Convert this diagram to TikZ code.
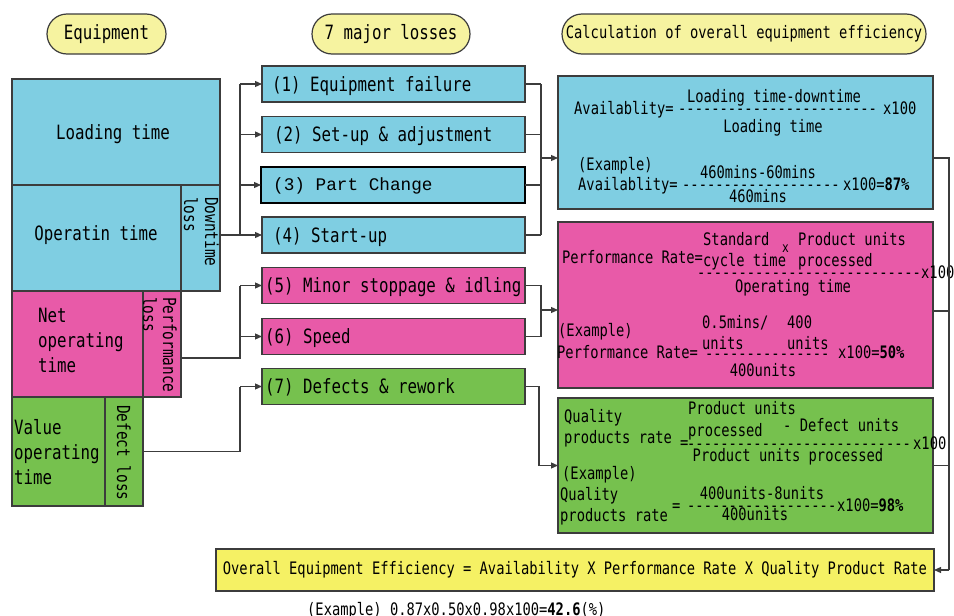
\documentclass[tikz,border=0pt]{standalone}
\usepackage{fontspec}
\setmainfont{DejaVu Sans Mono}[FakeStretch=0.8, Ligatures=TeXOff]
\newfontfamily\courfont{Liberation Mono}[Ligatures=TeXOff]
\usetikzlibrary{arrows.meta,calc}
\definecolor{cblue}{RGB}{127,206,226}
\definecolor{cpink}{RGB}{232,90,168}
\definecolor{cgreen}{RGB}{118,193,78}
\definecolor{cyel}{RGB}{245,241,100}
\definecolor{chead}{RGB}{246,243,160}
\definecolor{cline}{RGB}{60,60,60}
\begin{document}
\begin{tikzpicture}[x=1pt,y=-1pt,
  box/.style={draw=cline, line width=1.2pt, inner sep=0pt, outer sep=0pt},
  mf/.style={font=\fontsize{19.7}{25}\selectfont},
  cf/.style={font=\fontsize{17.2}{21}\selectfont},
  rf/.style={font=\fontsize{18}{21}\selectfont},
  mt/.style={mf, inner sep=0pt, anchor=west, text height=14.4pt, text depth=0pt},
  ct/.style={cf, inner sep=0pt, anchor=west, text height=12.5pt, text depth=0pt},
  cc/.style={ct, anchor=center},
  rt/.style={rf, inner sep=0pt, rotate=-90, anchor=base west},
  conn/.style={draw=cline, line width=1.2pt},
  arr/.style={conn, -{Triangle[length=7pt,width=6pt]}},
  head/.style={box, fill=chead, rounded corners=20pt, minimum height=40pt},
]
\useasboundingbox (0,0) rectangle (954,616);

% headers
\node[head, mf, minimum width=119pt] (h1) at (106.5,34) {Equipment};
\node[head, mf, minimum width=158pt] (h2) at (391,34) {7 major losses};
\node[head, cf, minimum width=364pt] (h3) at (744,34) {Calculation of overall equipment efficiency};

% left column
\node[box, fill=cblue, minimum width=208pt, minimum height=106pt] (lt) at (116,132) {};
\node[box, fill=cblue, minimum width=169pt, minimum height=106pt] (ot) at (96.5,238) {};
\node[box, fill=cblue, minimum width=39pt, minimum height=106pt] (dl) at (200.5,238) {};
\node[box, fill=cpink, minimum width=131pt, minimum height=106pt] (nt) at (77.5,344) {};
\node[box, fill=cpink, minimum width=38pt, minimum height=106pt] (pl) at (162,344) {};
\node[box, fill=cgreen, minimum width=93pt, minimum height=109pt] (vt) at (58.5,451.5) {};
\node[box, fill=cgreen, minimum width=38pt, minimum height=109pt] (dfl) at (124,451.5) {};

\node[mt, anchor=center] (ltt) at (113,132) {Loading time};
\node[mt, anchor=center] (ott) at (96,233) {Operatin time};
\node[rt] (dlt1) at (205,197) {Downtime};
\node[rt] (dlt2) at (184,197) {loss};
\node[mf, inner sep=0pt, anchor=west, align=left] (ntt) at (38,340) {Net\\operating\\time};
\node[rt] (plt1) at (163,297) {Performance};
\node[rt] (plt2) at (143,297) {loss};
\node[mf, inner sep=0pt, anchor=west, align=left] (vtt) at (14,452) {Value\\operating\\time};
\node[rt] (dflt) at (117,405) {Defect loss};

% middle column
\node[box, fill=cblue, minimum width=263pt, minimum height=36pt] (l1) at (393.5,84) {};
\node[box, fill=cblue, minimum width=263pt, minimum height=36pt] (l2) at (393.5,134.5) {};
\node[box, fill=cblue, draw=black, minimum width=264pt, minimum height=36pt] (l3) at (393,185) {};
\node[box, fill=cblue, minimum width=263pt, minimum height=36pt] (l4) at (393.5,235) {};
\node[box, fill=cpink, minimum width=263pt, minimum height=36pt] (l5) at (393.5,285.5) {};
\node[box, fill=cpink, minimum width=263pt, minimum height=36pt] (l6) at (393.5,336.5) {};
\node[box, fill=cgreen, minimum width=263pt, minimum height=36pt] (l7) at (393.5,386.5) {};

\node[mt] (l1t) at (272,84) {(1) Equipment failure};
\node[mt] (l2t) at (274,134.5) {(2) Set-up \& adjustment};
\node[inner sep=0pt, anchor=west, font=\courfont\fontsize{17.7}{20}\selectfont] (l3t) at (273,186) {(3) Part Change};
\node[mt] (l4t) at (273,235) {(4) Start-up};
\node[mt] (l5t) at (265,285.5) {(5) Minor stoppage \& idling};
\node[mt] (l6t) at (265,336.5) {(6) Speed};
\node[mt] (l7t) at (265,386.5) {(7) Defects \& rework};

% calculation boxes
\node[box, fill=cblue, minimum width=375pt, minimum height=133pt] (avail) at (745.5,142.5) {};
\node[box, fill=cpink, minimum width=375pt, minimum height=166pt] (perf) at (745.5,305) {};
\node[box, fill=cgreen, minimum width=375pt, minimum height=135pt] (qual) at (745.5,465.5) {};

% availability texts
\node[ct] (a1) at (574,108) {Availablity=};
\node[cc] (a2) at (774,96) {Loading time-downtime};
\node[ct] (a3) at (678,108) {------------------------};
\node[ct] (a4) at (883,108) {x100};
\node[cc] (a5) at (773,126) {Loading time};
\node[ct] (a6) at (578,164) {(Example)};
\node[ct] (a7) at (578,184) {Availablity=};
\node[cc] (a8) at (758,172.5) {460mins-60mins};
\node[ct] (a9) at (682,184) {-------------------};
\node[ct] (a10) at (843,184) {x100=\textbf{87\%}};
\node[cc] (a11) at (758,196) {460mins};

% performance texts
\node[ct] (p1) at (562,257) {Performance Rate=};
\node[ct] (p2) at (703,239) {Standard};
\node[ct, font=\fontsize{14}{16}\selectfont] (p3) at (782,246) {x};
\node[ct] (p4) at (798,239) {Product units};
\node[ct] (p5) at (703,260) {cycle time};
\node[ct] (p6) at (798,260) {processed};
\node[ct] (p7) at (697,272) {---------------------------};
\node[ct] (p8) at (921,272) {x100};
\node[cc] (p9) at (793,286) {Operating time};
\node[ct] (p10) at (702,322) {0.5mins/};
\node[ct] (p11) at (787,322) {400};
\node[ct] (p12) at (558,330) {(Example)};
\node[ct] (p13) at (702,343) {units};
\node[ct] (p14) at (787,343) {units};
\node[ct] (p15) at (557,352) {Performance Rate=};
\node[ct] (p16) at (705,353) {---------------};
\node[ct] (p17) at (838,352) {x100=\textbf{50\%}};
\node[cc] (p18) at (763,370) {400units};

% quality texts
\node[ct] (q1) at (564,416) {Quality};
\node[ct] (q2) at (564,437) {products rate};
\node[ct] (q3) at (680,442) {=};
\node[ct] (q4) at (688,408) {Product units};
\node[ct] (q5) at (688,430) {processed};
\node[ct] (q6) at (783,425) {- Defect units};
\node[ct] (q7) at (687,443) {---------------------------};
\node[ct] (q8) at (913,443) {x100};
\node[cc] (q9) at (788,455) {Product units processed};
\node[ct] (q10) at (562,473) {(Example)};
\node[ct] (q11) at (560,494) {Quality};
\node[ct] (q12) at (560,515) {products rate};
\node[ct] (q13) at (672,505) {=};
\node[cc] (q14) at (762,493) {400units-8units};
\node[ct] (q15) at (687,505) {------------------};
\node[ct] (q16) at (837,505) {x100=\textbf{98\%}};
\node[cc] (q17) at (755,514) {400units};

% overall
\node[box, fill=cyel, cf, minimum width=718pt, minimum height=42pt] (oee) at (575,570) {Overall Equipment Efficiency = Availability X Performance Rate X Quality Product Rate};
\node[cf, inner sep=0pt, anchor=base west] (ex) at (307,615.5) {(Example) 0.87x0.50x0.98x100=\textbf{42.6}(\%)};

% connectors left -> middle
\coordinate (b1) at (240,0);
\draw[conn] (b1 |- l1.west) -- (b1 |- l4.west);
\draw[arr] (dl.east |- l4.west) -- (l4.west);
\foreach \n in {l1,l2,l3} \draw[arr] (b1 |- \n.west) -- (\n.west);
\coordinate (pout) at ($(pl.east)+(0,14)$);
\draw[conn] (pout) -- (b1 |- pout) -- (b1 |- l5.west);
\draw[arr] (b1 |- l5.west) -- (l5.west);
\draw[arr] (b1 |- l6.west) -- (l6.west);
\draw[conn] (dfl.east) -- (b1 |- dfl.east) -- (b1 |- l7.west);
\draw[arr] (b1 |- l7.west) -- (l7.west);

% middle -> right
\coordinate (b2) at (541,0);
\foreach \n in {l1,l2,l3,l4} \draw[conn] (\n.east) -- (b2 |- \n.east);
\draw[conn] (b2 |- l1.east) -- (b2 |- l4.east);
\coordinate (ain) at ($(avail.west)+(0,15.5)$);
\draw[arr] (b2 |- ain) -- (ain);
\draw[conn] (l5.east) -- (b2 |- l5.east) -- (b2 |- l6.east) -- (l6.east);
\coordinate (pin) at ($(perf.west)+(0,5)$);
\draw[arr] (b2 |- pin) -- (pin);
\coordinate (b3) at (539,0);
\draw[arr] (l7.east) -- (b3 |- l7.east) -- (b3 |- qual.west) -- (qual.west);

% right bus
\coordinate (b4) at (949,0);
\coordinate (aout) at ($(avail.east)+(0,15.5)$);
\coordinate (pout2) at ($(perf.east)+(0,6)$);
\draw[conn] (aout) -- (b4 |- aout) -- (b4 |- oee.east);
\draw[arr] (b4 |- oee.east) -- (oee.east);
\draw[conn] (pout2) -- (b4 |- pout2);
\draw[conn] (qual.east) -- (b4 |- qual.east);
\end{tikzpicture}
\end{document}
